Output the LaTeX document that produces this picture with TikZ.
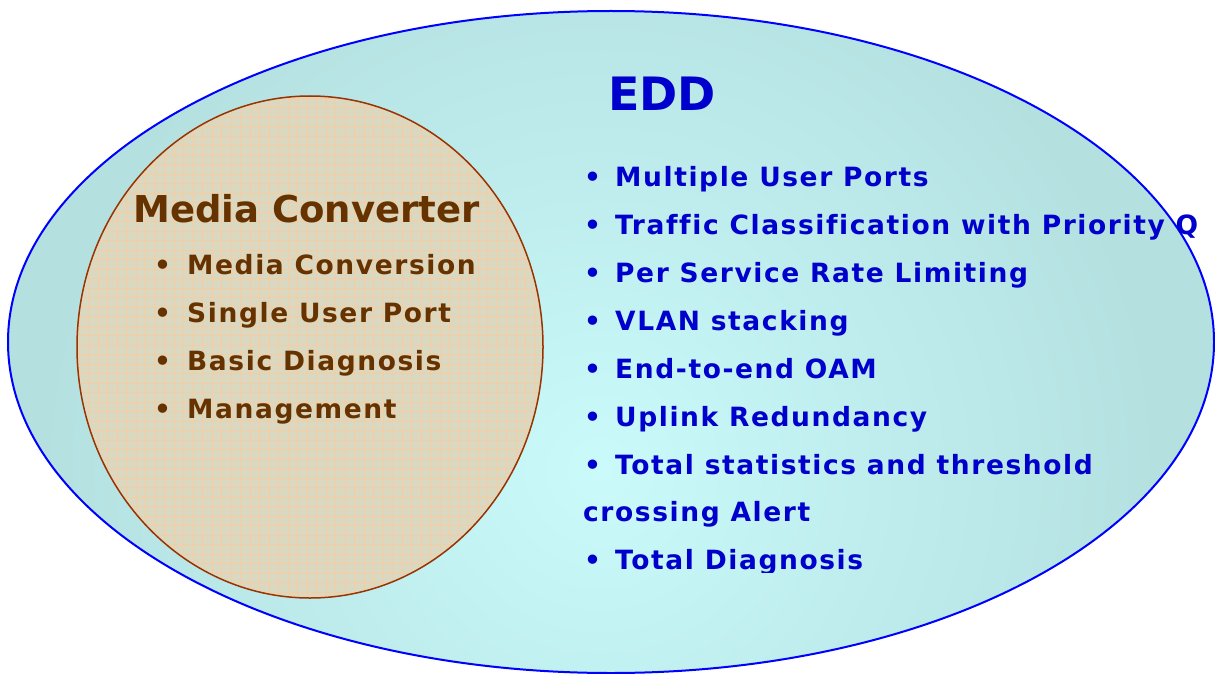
\documentclass[tikz,border=0pt]{standalone}
\usepackage{fontspec}
\setmainfont{DejaVu Sans}
\newfontfamily\itemfont[LetterSpace=6,Ligatures=NoCommon]{DejaVu Sans}
\definecolor{eddblue}{RGB}{0,0,204}
\definecolor{eddline}{RGB}{0,0,255}
\definecolor{eddfill}{RGB}{180,224,224}
\definecolor{eddglow}{RGB}{202,250,250}
\definecolor{mcbrown}{RGB}{102,51,0}
\definecolor{mcline}{RGB}{153,51,0}
\definecolor{mcfill}{RGB}{219,216,194}
\definecolor{mcgrid}{RGB}{244,206,162}

\begin{document}
\begin{tikzpicture}[x=1pt,y=-1pt,line cap=round,line join=round,
  txt/.style={anchor=base west,inner sep=0pt,font=\itemfont\bfseries\fontsize{26.5}{26.5}\selectfont},
  edditem/.style={txt,text=eddblue},
  mcitem/.style={txt,text=mcbrown}]
    \useasboundingbox (0,0) rectangle (1215,674);
    % outer ellipse
    \fill[eddfill] (611,342) ellipse [x radius=603, y radius=331];
    \begin{scope}
      \clip (611,342) ellipse [x radius=603, y radius=331];
      \shade[inner color=eddglow,outer color=eddfill] (600,470) circle (560);
    \end{scope}
    \draw[eddline,line width=2pt] (611,342) ellipse [x radius=603, y radius=331];
    % inner ellipse
    \fill[mcfill] (310,347) ellipse [x radius=233, y radius=251];
    \begin{scope}
      \clip (310,347) ellipse [x radius=233, y radius=251];
      \foreach \x in {79,88.5,...,545}
      \draw[mcgrid,line width=0.7pt] (\x,95) -- (\x,600);
      \foreach \y in {98,107.5,...,600}
      \draw[mcgrid,line width=0.7pt] (76,\y) -- (545,\y);
    \end{scope}
    \draw[mcline,line width=1.5pt] (310,347) ellipse [x radius=233, y radius=251];
    % titles
    \node[txt,text=eddblue,font=\bfseries\fontsize{46}{46}\selectfont] (edd) at (608,111) {EDD};
    \node[txt,text=mcbrown,font=\bfseries\fontsize{37}{37}\selectfont] (mc) at (133,222) {Media Converter};
    % media converter items
    \foreach \y/\t [count=\i] in {274/Media Conversion,322/Single User Port,370/Basic Diagnosis,418/Management}{
      \node[mcitem] (mcb\i) at (154,\y) {•};
      \node[mcitem] (mc\i) at (187,\y) {\t};
    }
    % edd items
    \foreach \y/\t [count=\i] in {186/Multiple User Ports,234/Traffic Classification with Priority Q,282/Per Service Rate Limiting,330/VLAN stacking,378/End-to-end OAM,426/Uplink Redundancy,474/Total statistics and threshold}{
      \node[edditem] (eddb\i) at (584,\y) {•};
      \node[edditem] (edd\i) at (615,\y) {\t};
    }
    \node[edditem] (edd8) at (583,521) {crossing Alert};
    \begin{scope}
      \clip (570,530) rectangle (900,572);
      \node[edditem] (eddb9) at (584,569) {•};
      \node[edditem] (edd9) at (615,569) {Total Diagnosis};
    \end{scope}
\end{tikzpicture}
\end{document}
